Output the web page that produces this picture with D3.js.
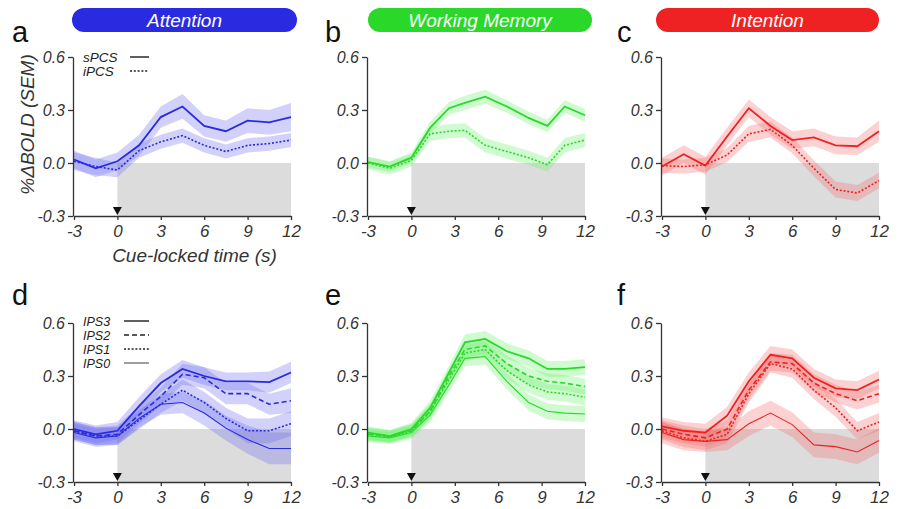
<!DOCTYPE html>
<html><head><meta charset="utf-8">
<script src="https://cdn.jsdelivr.net/npm/d3@7"></script>
<style>
body{margin:0;background:#fff;}
svg text{font-family:"Liberation Sans",Arial,Helvetica,sans-serif;}
</style></head>
<body><svg id="c" width="898" height="509"></svg>
<script>
// ---------- data ----------
const times   = [-3,-1.5,0,1.5,3,4.5,6,7.5,9,10.5,12];
const timesWM = [-3,-1.5,0,1.3,2.6,3.7,5.1,6.6,8.1,9.4,10.6,12];
const xTicks = [-3,0,3,6,9,12];
const xTickLabels = ["-3","0","3","6","9","12"];
const yTicks = [-0.3,0,0.3,0.6];
const yTickLabels = ["-0.3","0.0","0.3","0.6"];
const titles = ["Attention","Working Memory","Intention"];
const colors = ["#2a2ae0","#2ad82a","#ee2222"];
const bandColors = ["#6f6ff0","#6cf06c","#f27070"];
const letters = ["a","b","c","d","e","f"];

// panel a (sPCS / iPCS, attention)
const aSPCS = [0.02,-0.03,0.01,0.10,0.26,0.32,0.21,0.18,0.24,0.23,0.26];
const aSPCSsem = [0.05,0.05,0.05,0.06,0.06,0.07,0.06,0.06,0.07,0.07,0.08];
const aIPCS = [0.01,-0.02,-0.04,0.07,0.12,0.155,0.10,0.065,0.10,0.11,0.13];
const aIPCSsem = [0.05,0.05,0.04,0.04,0.04,0.04,0.04,0.04,0.04,0.04,0.04];
// panel b (working memory)
const bSPCS = [0.005,-0.02,0.03,0.20,0.31,0.34,0.375,0.32,0.255,0.21,0.32,0.27];
const bSPCSsem = [0.03,0.03,0.03,0.035,0.035,0.04,0.04,0.035,0.035,0.035,0.035,0.035];
const bIPCS = [0.0,-0.03,0.015,0.165,0.18,0.185,0.10,0.065,0.03,-0.01,0.10,0.13];
const bIPCSsem = [0.035,0.035,0.035,0.04,0.04,0.04,0.04,0.04,0.04,0.04,0.04,0.04];
// panel c (intention)
const cSPCS = [-0.02,0.05,-0.015,0.15,0.31,0.21,0.13,0.145,0.10,0.095,0.18];
const cSPCSsem = [0.05,0.05,0.05,0.05,0.05,0.05,0.05,0.05,0.05,0.05,0.06];
const cIPCS = [-0.015,-0.02,-0.01,0.045,0.165,0.19,0.10,-0.03,-0.15,-0.17,-0.10];
const cIPCSsem = [0.04,0.04,0.04,0.04,0.045,0.045,0.045,0.045,0.045,0.045,0.045];
// panel d (IPS, attention)
const dIPS3 = [0.0,-0.03,-0.01,0.13,0.26,0.34,0.30,0.27,0.27,0.265,0.32];
const dIPS2 = [-0.01,-0.04,-0.03,0.08,0.185,0.31,0.29,0.20,0.20,0.14,0.16];
const dIPS1 = [-0.01,-0.04,-0.04,0.05,0.14,0.22,0.15,0.06,-0.01,-0.01,0.03];
const dIPS0 = [-0.02,-0.05,-0.04,0.06,0.14,0.15,0.09,0.005,-0.06,-0.11,-0.11];
const dSem3 = [0.05,0.05,0.05,0.05,0.05,0.05,0.05,0.05,0.05,0.06,0.06];
const dSem2 = [0.05,0.05,0.05,0.05,0.05,0.06,0.06,0.06,0.06,0.06,0.07];
const dSem1 = [0.05,0.05,0.05,0.05,0.05,0.06,0.06,0.06,0.07,0.07,0.07];
const dSem0 = [0.05,0.05,0.05,0.05,0.06,0.06,0.07,0.07,0.08,0.09,0.09];
// panel e (IPS, working memory)
const eIPS3 = [-0.02,-0.04,0.0,0.12,0.32,0.49,0.51,0.44,0.40,0.34,0.34,0.35];
const eIPS2 = [-0.03,-0.04,-0.01,0.10,0.30,0.45,0.47,0.37,0.30,0.27,0.26,0.24];
const eIPS1 = [-0.03,-0.045,-0.01,0.10,0.28,0.43,0.45,0.33,0.25,0.21,0.20,0.18];
const eIPS0 = [-0.04,-0.05,-0.02,0.08,0.25,0.40,0.41,0.27,0.15,0.10,0.09,0.085];
const eSem = [0.035,0.035,0.035,0.04,0.04,0.045,0.045,0.045,0.045,0.045,0.045,0.045];
// panel f (IPS, intention)
const fIPS3 = [0.015,-0.01,-0.02,0.075,0.27,0.42,0.40,0.29,0.23,0.22,0.28];
const fIPS2 = [0.0,-0.03,-0.05,0.0,0.22,0.38,0.37,0.26,0.20,0.16,0.20];
const fIPS1 = [-0.01,-0.05,-0.07,-0.03,0.20,0.37,0.34,0.22,0.12,-0.01,0.04];
const fIPS0 = [-0.02,-0.06,-0.07,-0.06,0.03,0.09,0.025,-0.09,-0.10,-0.13,-0.065];
const fSem = [0.05,0.05,0.05,0.05,0.05,0.05,0.05,0.05,0.05,0.05,0.05];
const fSem0 = [0.06,0.06,0.06,0.06,0.07,0.07,0.07,0.07,0.07,0.07,0.07];

// ---------- layout ----------
const colX = [74,368,662], rowY = [57,323], PW = 217, PH = 159;
const titleBars = [[72,297],[368,592],[656,879]];
const styles = {
  solid:{w:1.8,dash:null}, dotted:{w:1.6,dash:"2,1.8"}, dashed:{w:1.6,dash:"5,3"}, thin:{w:1.1,dash:null}
};
const panels = [
  {row:0,col:0,series:[{t:times,m:aSPCS,s:aSPCSsem,st:"solid"},{t:times,m:aIPCS,s:aIPCSsem,st:"dotted"}],
   legend:[["sPCS","solid"],["iPCS","dotted"]]},
  {row:0,col:1,series:[{t:timesWM,m:bSPCS,s:bSPCSsem,st:"solid"},{t:timesWM,m:bIPCS,s:bIPCSsem,st:"dotted"}]},
  {row:0,col:2,series:[{t:times,m:cSPCS,s:cSPCSsem,st:"solid"},{t:times,m:cIPCS,s:cIPCSsem,st:"dotted"}]},
  {row:1,col:0,series:[{t:times,m:dIPS3,s:dSem3,st:"solid"},{t:times,m:dIPS2,s:dSem2,st:"dashed"},{t:times,m:dIPS1,s:dSem1,st:"dotted"},{t:times,m:dIPS0,s:dSem0,st:"thin"}],
   legend:[["IPS3","solid"],["IPS2","dashed"],["IPS1","dotted"],["IPS0","thin"]]},
  {row:1,col:1,series:[{t:timesWM,m:eIPS3,s:eSem,st:"solid"},{t:timesWM,m:eIPS2,s:eSem,st:"dashed"},{t:timesWM,m:eIPS1,s:eSem,st:"dotted"},{t:timesWM,m:eIPS0,s:eSem,st:"thin"}]},
  {row:1,col:2,series:[{t:times,m:fIPS3,s:fSem,st:"solid"},{t:times,m:fIPS2,s:fSem,st:"dashed"},{t:times,m:fIPS1,s:fSem,st:"dotted"},{t:times,m:fIPS0,s:fSem0,st:"thin"}]}
];

const svg = d3.select("#c");

// title bars
titles.forEach((t,i)=>{
  const [x1,x2] = titleBars[i];
  svg.append("rect").attr("x",x1).attr("y",8).attr("width",x2-x1).attr("height",24)
    .attr("rx",12).attr("fill",colors[i]);
  svg.append("text").attr("x",(x1+x2)/2).attr("y",27).attr("text-anchor","middle")
    .attr("fill","#fff").attr("font-size",19).attr("font-style","italic").text(t);
});

panels.forEach((p,pi)=>{
  const x0 = colX[p.col], y0 = rowY[p.row];
  const x = d3.scaleLinear().domain([-3,12]).range([x0,x0+PW]);
  const y = d3.scaleLinear().domain([-0.3,0.6]).range([y0+PH,y0]);
  const g = svg.append("g");
  const col = colors[p.col];

  // gray region
  g.append("rect").attr("x",x(0)).attr("y",y(0)).attr("width",x(12)-x(0)).attr("height",y(-0.3)-y(0))
    .attr("fill","#dcdcdc");

  // bands
  p.series.forEach(s=>{
    const area = d3.area().x((d,i)=>x(s.t[i])).y0((d,i)=>y(s.m[i]-s.s[i])).y1((d,i)=>y(s.m[i]+s.s[i]));
    g.append("path").attr("d",area(s.m)).attr("fill",bandColors[p.col]).attr("opacity",0.32);
  });
  // lines
  p.series.forEach(s=>{
    const line = d3.line().x((d,i)=>x(s.t[i])).y(d=>y(d));
    const st = styles[s.st];
    g.append("path").attr("d",line(s.m)).attr("fill","none").attr("stroke",col)
      .attr("stroke-width",st.w).attr("stroke-dasharray",st.dash);
  });

  // axes
  const ya = g.append("g").attr("transform",`translate(${x0-1},0)`)
    .call(d3.axisLeft(y).tickValues(yTicks).tickFormat((d,i)=>yTickLabels[i]).tickSize(5).tickPadding(3).tickSizeOuter(0));
  const xa = g.append("g").attr("transform",`translate(0,${y0+PH})`)
    .call(d3.axisBottom(x).tickValues(xTicks).tickFormat((d,i)=>xTickLabels[i]).tickSize(4).tickPadding(5).tickSizeOuter(0));
  [ya,xa].forEach(a=>{
    a.selectAll("path,line").attr("stroke","#333").attr("stroke-width",1.3);
    a.selectAll("text").attr("fill","#333").attr("font-style","italic").attr("font-size",16)
      .attr("font-family","'Liberation Sans',Arial,sans-serif");
  });
  xa.selectAll("text").attr("font-size",17);

  // cue triangle
  const tx = x(0), ty = y(-0.3);
  g.append("path").attr("d",`M${tx-4.5},${ty-9}L${tx+4.5},${ty-9}L${tx},${ty-1}Z`).attr("fill","#111");

  // panel letter
  svg.append("text").attr("x",x0 - (p.col===0?62:(p.col===1?43:45))).attr("y",y0-15 + (p.row===1? -3:0))
    .attr("font-size",29).attr("fill","#111").text(letters[pi]);

  // legend
  if(p.legend){
    const two = p.legend.length===2;
    const fs = two ? 13.5 : 12.5;
    const step = 14;
    const start = two ? 5 : 3;
    p.legend.forEach((L,i)=>{
      const ly = y0 + start + i*step;
      g.append("text").attr("x",x0+9).attr("y",ly).attr("font-size",fs).attr("font-style","italic")
        .attr("fill","#222").text(L[0]);
      const st = styles[L[1]];
      const lx1 = two ? x0+56 : x0+50;
      g.append("line").attr("x1",lx1).attr("x2",x0+75).attr("y1",ly-5).attr("y2",ly-5)
        .attr("stroke","#222").attr("stroke-width",st.w*0.8).attr("stroke-dasharray",st.dash);
    });
  }

  if(pi===0){
    svg.append("text").attr("transform",`translate(34,${y0+PH/2-12}) rotate(-90)`)
      .attr("text-anchor","middle").attr("font-size",19).attr("font-style","italic").attr("fill","#333")
      .text("%\u0394BOLD (SEM)");
    svg.append("text").attr("x",(x0+x0+PW)/2+12).attr("y",y0+PH+46).attr("text-anchor","middle")
      .attr("font-size",19).attr("font-style","italic").attr("fill","#333").text("Cue-locked time (s)");
  }
});
</script></body></html>
